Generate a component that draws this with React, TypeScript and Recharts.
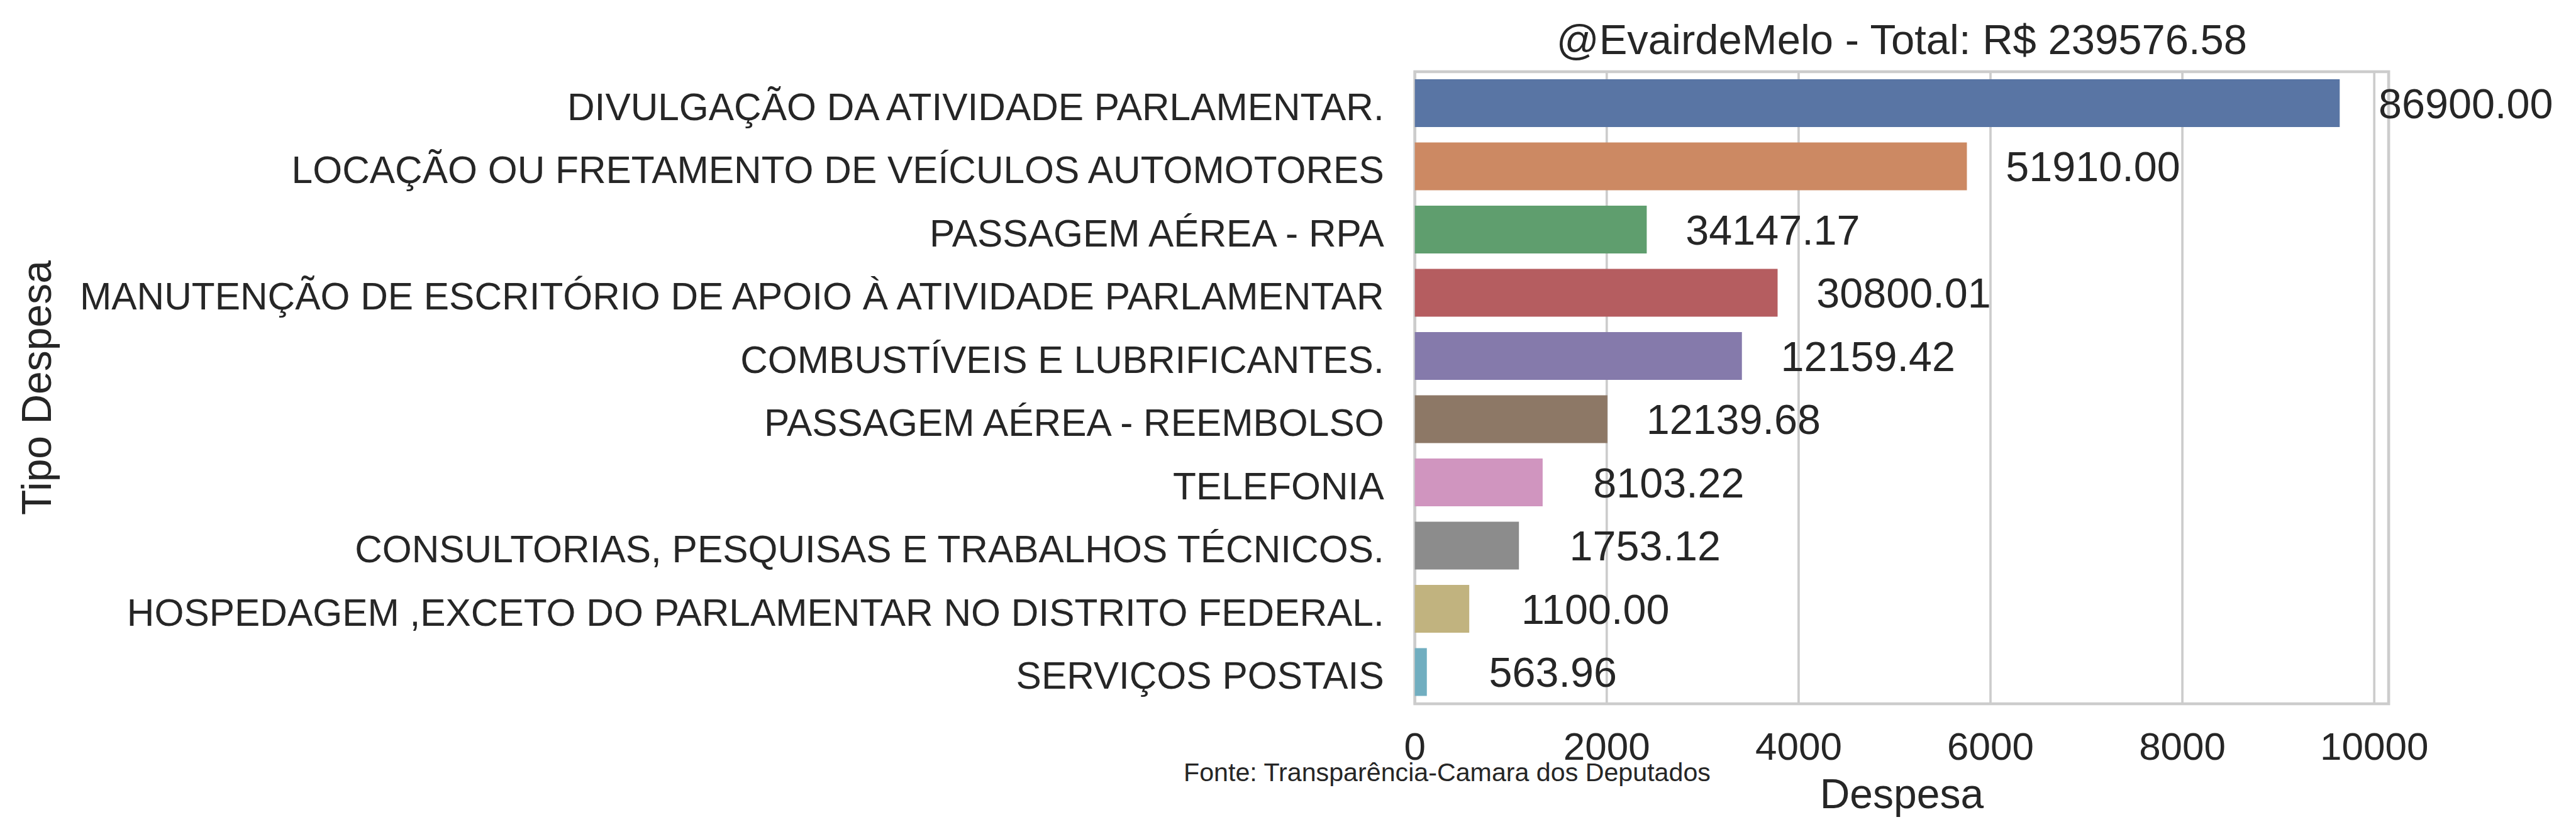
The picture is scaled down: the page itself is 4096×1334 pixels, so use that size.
import React from "react";
import { BarChart, Bar, XAxis, YAxis, CartesianGrid, Cell, LabelList, ReferenceArea } from "recharts";

const tipos = [
  "DIVULGAÇÃO DA ATIVIDADE PARLAMENTAR.",
  "LOCAÇÃO OU FRETAMENTO DE VEÍCULOS AUTOMOTORES",
  "PASSAGEM AÉREA - RPA",
  "MANUTENÇÃO DE ESCRITÓRIO DE APOIO À ATIVIDADE PARLAMENTAR",
  "COMBUSTÍVEIS E LUBRIFICANTES.",
  "PASSAGEM AÉREA - REEMBOLSO",
  "TELEFONIA",
  "CONSULTORIAS, PESQUISAS E TRABALHOS TÉCNICOS.",
  "HOSPEDAGEM ,EXCETO DO PARLAMENTAR NO DISTRITO FEDERAL.",
  "SERVIÇOS POSTAIS",
];
const despesa = [9640, 5754, 2417, 3781, 3409, 2007, 1332, 1085, 567, 125];
const totais = ["86900.00", "51910.00", "34147.17", "30800.01", "12159.42", "12139.68", "8103.22", "1753.12", "1100.00", "563.96"];
const cores = ["#5975a4", "#cc8963", "#5f9e6e", "#b55d60", "#857aab", "#8d7866", "#d095bf", "#8c8c8c", "#c1b37f", "#71aec0"];
const xTicks = [0, 2000, 4000, 6000, 8000, 10000];

const W = 4096;
const H = 1334;
const PLOT_LEFT = 2249.7;
const PLOT_RIGHT = 3798.1;
const PLOT_TOP = 114;
const PLOT_BOTTOM = 1119;
const FONT = "'Liberation Sans', Arial, sans-serif";
const INK = "#262626";
const GRID = "#cccccc";

const data = tipos.map((tipo, i) => ({ tipo, valor: despesa[i] }));

function YTick(props: any) {
  const { y, payload } = props;
  return (
    <text x={PLOT_LEFT - 49} y={y + 26.5} textAnchor="end" fontSize={60.4} fontFamily={FONT} fill={INK}>
      {payload.value}
    </text>
  );
}

function XTick(props: any) {
  const { x, payload } = props;
  return (
    <text x={x} y={PLOT_BOTTOM + 88.6} textAnchor="middle" fontSize={62} fontFamily={FONT} fill={INK}>
      {payload.value}
    </text>
  );
}

function ValueLabel(props: any) {
  const { x, y, width, height, index } = props;
  return (
    <text x={x + width + 200.5} y={y + height / 2 + 23.8} textAnchor="middle" fontSize={66.5} fontFamily={FONT} fill={INK}>
      {totais[index]}
    </text>
  );
}

export default function App() {
  const cx = (PLOT_LEFT + PLOT_RIGHT) / 2;
  const cy = (PLOT_TOP + PLOT_BOTTOM) / 2;
  return (
    <div style={{ position: "absolute", left: 0, top: 0, width: W, height: H, background: "#fff" }}>
      <BarChart
        width={W}
        height={H}
        data={data}
        layout="vertical"
        margin={{ top: PLOT_TOP, right: W - PLOT_RIGHT, left: 0, bottom: 115 }}
      >
        <CartesianGrid horizontal={false} stroke={GRID} strokeWidth={3.7} />
        <XAxis
          type="number"
          domain={[0, 10150]}
          ticks={xTicks}
          height={100}
          axisLine={false}
          tickLine={false}
          tick={<XTick />}
        />
        <YAxis
          type="category"
          dataKey="tipo"
          width={PLOT_LEFT}
          axisLine={false}
          tickLine={false}
          interval={0}
          tick={<YTick />}
        />
        <Bar dataKey="valor" barSize={76} isAnimationActive={false}>
          {data.map((d, i) => (
            <Cell key={d.tipo} fill={cores[i]} />
          ))}
          <LabelList dataKey="valor" content={<ValueLabel />} />
        </Bar>
        <ReferenceArea x1={0} x2={10150} fill="none" stroke={GRID} strokeWidth={4.7} ifOverflow="visible" />
      </BarChart>
      <svg width={W} height={H} style={{ position: "absolute", left: 0, top: 0, pointerEvents: "none" }}>
        <text x={cx} y={86} textAnchor="middle" fontSize={67} fontFamily={FONT} fill={INK}>
          @EvairdeMelo - Total: R$ 239576.58
        </text>
        <text x={cx} y={1285.4} textAnchor="middle" fontSize={66} fontFamily={FONT} fill={INK}>
          Despesa
        </text>
        <text
          x={80.5}
          y={cy}
          textAnchor="middle"
          fontSize={66}
          fontFamily={FONT}
          fill={INK}
          transform={`rotate(-90 80.5 ${cy})`}
        >
          Tipo Despesa
        </text>
        <text x={1882} y={1242} fontSize={41.2} fontFamily={FONT} fill={INK}>
          Fonte: Transparência-Camara dos Deputados
        </text>
      </svg>
    </div>
  );
}
